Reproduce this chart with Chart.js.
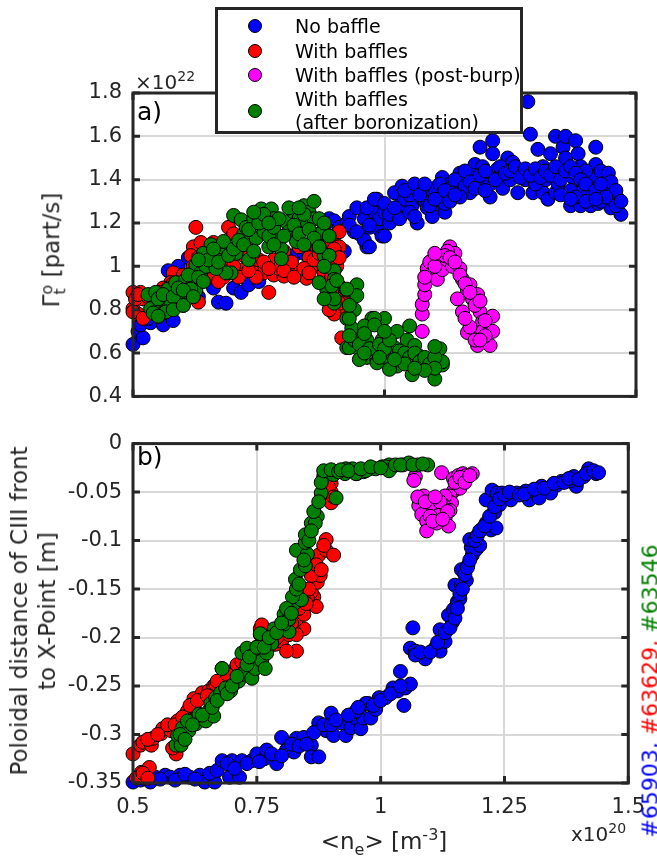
<!DOCTYPE html>
<html>
<head>
<meta charset="utf-8">
<script src="https://cdn.jsdelivr.net/npm/chart.js@4"></script>
<style>
body{margin:0;width:657px;height:867px;position:relative;background:#fff;overflow:hidden;font-family:"DejaVu Sans",sans-serif;color:#262626}
canvas{position:absolute;left:0}
.txt{position:absolute;white-space:nowrap}
.rot{position:absolute;white-space:nowrap;transform:translate(-50%,-50%) rotate(-90deg)}
.dot{position:absolute;width:12px;height:12px;border-radius:50%;border:1px solid #000;transform:translate(-50%,-50%)}
#legend{position:absolute;left:215px;top:7px;width:302px;height:121px;border:3px solid #262626;background:#fff;z-index:5;font-size:19px;color:#000}
</style>
</head>
<body>
<canvas id="fluxChart" width="657" height="420" style="top:0"></canvas>
<canvas id="frontChart" width="657" height="447" style="top:420px"></canvas>

<div id="legend"></div>

<div class="txt" style="left:135px;top:68px;font-size:20px">&times;10<sup style="font-size:14px">22</sup></div>
<div class="txt" style="left:137px;top:97px;font-size:25px;color:#000">a)</div>
<div class="txt" style="left:137px;top:442px;font-size:25px;color:#000">b)</div>
<div class="rot" style="left:52px;top:250px;font-size:23px">&Gamma;<span style="display:inline-block;vertical-align:middle;font-size:16px;line-height:13px;text-align:left">o<br>t</span> [part/s]</div>
<div class="rot" style="left:33px;top:611px;font-size:23px;line-height:28px;text-align:center">Poloidal distance of CIII front<br>to X-Point [m]</div>
<div class="txt" style="left:384px;top:842px;transform:translate(-50%,-50%);font-size:23px">&lt;n<sub style="font-size:16px">e</sub>&gt; [m<sup style="font-size:16px">-3</sup>]</div>
<div class="txt" style="left:571px;top:820px;font-size:20px">x10<sup style="font-size:14px">20</sup></div>
<div class="rot" style="left:650px;top:691px;font-size:22px"><span style="color:#0000ff">#65903,</span> <span style="color:#ff0000">#63629,</span> <span style="color:#008000">#63546</span></div>

<script>
// series names and colours
const seriesLabels = ["No baffle", "With baffles", "With baffles (post-burp)", "With baffles\n(after boronization)"]
const seriesColors = ["#0000ff", "#ff0000", "#ff00ff", "#007f00"]

// panel a) : <ne> [1e20 m^-3] vs Gamma [1e22 part/s]
const fluxNoBaffle = [
[0.50,0.64],[0.51,0.70],[0.52,0.67],[0.515,0.73],[0.535,0.74],[0.56,0.73],[0.58,0.75],[0.545,0.78],[0.555,0.80],
[0.53,0.76],[0.55,0.77],[0.60,0.82],[0.63,0.86],[0.66,0.90],
[0.57,0.98],[0.59,1.0],[0.61,1.04],[0.645,0.955],[0.62,0.92],[0.67,0.835],[0.685,0.83],[0.70,0.90],[0.715,0.88],
[0.73,0.915],[0.75,0.93],[0.77,1.01],[0.78,0.98],[0.79,1.0],[0.81,1.02],[0.82,1.05],[0.84,1.06],[0.85,1.10],
[0.86,1.12],[0.87,1.15],[0.88,1.17],[0.89,1.22],[0.90,1.21],[0.91,1.18],[0.925,1.20],[0.93,1.23],
[0.92,1.07],[0.945,1.27],[0.95,1.15],[0.96,1.22],[0.97,1.18],[0.965,1.09],[0.98,1.25],[0.96,1.12],[0.99,1.17],
[0.99,1.22],[0.995,1.14],[1.02,1.34],[1.03,1.28],
[0.985,1.31],[0.965,1.27],[0.94,1.16],[1.0,1.25],[0.93,1.19],[0.945,1.16],[0.97,1.09],[0.97,1.19],[0.98,1.31],
[1.0,1.14],[1.01,1.20],[1.035,1.37],[1.04,1.31],[1.055,1.28],[1.065,1.36],[1.065,1.20],[1.075,1.31],[1.09,1.34],
[1.105,1.29],[1.12,1.25],[1.115,1.41],[1.13,1.38],[1.145,1.36],[1.15,1.43],[1.165,1.40],[1.17,1.34],[1.18,1.47],
[1.19,1.55],[1.195,1.46],[1.21,1.32],[1.215,1.58],[1.215,1.52],[1.225,1.45],[1.235,1.36],[1.245,1.50],[1.255,1.48],
[1.26,1.43],[1.265,1.34],[1.275,1.44],[1.285,1.76],[1.29,1.61],[1.295,1.34],[1.305,1.43],[1.305,1.54],[1.315,1.34],
[1.315,1.46],[1.325,1.31],[1.33,1.52],[1.335,1.41],[1.34,1.60],[1.34,1.34],[1.355,1.43],[1.355,1.55],[1.36,1.60],
[1.36,1.50],[1.37,1.28],[1.375,1.41],[1.38,1.58],[1.385,1.52],[1.39,1.46],[1.39,1.28],[1.395,1.37],[1.40,1.32],
[1.41,1.28],[1.41,1.41],[1.42,1.55],[1.42,1.47],[1.425,1.29],[1.43,1.44],[1.44,1.37],[1.445,1.43],[1.45,1.27],
[1.455,1.325],[1.465,1.31],[1.47,1.24],[1.45,1.39],[1.05,1.33],[1.08,1.30],[1.10,1.36],[1.125,1.33],[1.14,1.40],
[1.16,1.37],[1.175,1.42],[1.20,1.40],[1.23,1.42],[1.25,1.40],[1.28,1.40],[1.30,1.38],[1.32,1.40],[1.345,1.38],
[1.37,1.35],[1.38,1.32],[1.40,1.44],[1.43,1.30],[1.46,1.35],[1.0,1.29],[1.01,1.24],[1.03,1.22],[1.05,1.25],
[1.06,1.23],[1.085,1.27],[1.095,1.23],[1.12,1.29],[1.15,1.32],[1.185,1.37],[1.21,1.38],
[1.02,1.27],[1.04,1.35],[1.06,1.38],[1.07,1.33],[1.08,1.38],[1.09,1.28],[1.10,1.31],[1.11,1.38],[1.12,1.35],
[1.13,1.30],[1.14,1.33],[1.16,1.44],[1.17,1.39],[1.18,1.36],[1.19,1.42],[1.20,1.44],[1.20,1.35],[1.22,1.40],
[1.23,1.46],[1.24,1.43],[1.25,1.44],[1.26,1.46],[1.27,1.41],[1.28,1.45],[1.29,1.42],[1.30,1.45],[1.31,1.41],
[1.32,1.44],[1.33,1.42],[1.34,1.46],[1.35,1.40],[1.36,1.44],[1.37,1.46],[1.38,1.43],[1.39,1.40],[1.40,1.38],
[1.42,1.35],[1.43,1.38],[1.44,1.32],[1.46,1.28],[1.47,1.30],[1.35,1.33],[1.37,1.31],[1.40,1.30],[1.42,1.31]
]
const fluxBaffles = [
[0.50,0.88],[0.50,0.805],[0.515,0.88],[0.52,0.85],[0.51,0.78],[0.50,0.79],[0.52,0.76],[0.505,0.85],[0.51,0.87],
[0.625,1.18],[0.62,1.09],
[0.635,1.11],[0.64,1.06],[0.615,1.05],[0.58,0.97],[0.575,0.925],[0.61,0.925],[0.63,0.835],[0.66,1.11],[0.69,1.18],
[0.70,1.15],[0.665,1.0],[0.68,0.95],[0.70,0.97],[0.72,0.985],[0.74,1.0],[0.75,1.03],[0.76,0.97],[0.77,0.88],
[0.78,0.96],[0.80,0.955],[0.805,1.0],[0.825,0.97],[0.845,0.955],[0.86,1.0],[0.87,1.01],[0.89,1.03],[0.90,1.14],
[0.905,1.09],[0.91,1.16],[0.865,1.09],[0.83,1.09],[0.80,1.07],[0.78,1.03],[0.91,1.09],[0.905,1.0],[0.91,0.91],
[0.92,0.865],[0.92,0.80],[0.915,0.67],[0.905,0.85],[0.91,0.79],[0.90,1.06],[0.845,0.945],[0.55,0.86],[0.56,0.90],
[0.59,0.88],[0.60,0.93],[0.65,0.98],[0.69,1.02],[0.72,1.05],[0.745,0.95],[0.79,0.99],[0.815,1.02],[0.85,1.04],
[0.88,0.97],[0.895,0.95],[0.54,0.83],[0.57,0.83],[0.60,0.86],
[0.53,0.86],[0.55,0.88],[0.57,0.90],[0.58,0.92],[0.60,0.96],[0.62,1.0],[0.63,1.04],[0.64,1.0],[0.66,0.95],
[0.67,0.93],[0.68,1.0],[0.70,1.0],[0.71,0.95],[0.73,0.98],[0.76,1.02],[0.77,0.99],[0.80,0.98],[0.82,0.95],
[0.84,0.99],[0.85,0.97],[0.86,1.03],[0.87,1.06],[0.88,1.12],[0.89,1.10],[0.90,1.08],[0.91,1.04],[0.90,0.92],
[0.895,0.88],[0.91,0.83],[0.90,0.78],[0.89,0.80]
]
const fluxPostBurp = [
[1.075,0.70],[1.075,0.78],[1.075,0.825],[1.08,0.87],[1.08,0.915],[1.085,0.99],[1.105,1.045],[1.105,0.94],
[1.115,0.985],[1.125,1.03],[1.13,1.09],[1.14,1.06],[1.135,1.0],[1.15,0.99],[1.155,0.94],[1.165,0.89],[1.17,0.915],
[1.175,0.85],[1.185,0.87],[1.19,0.79],[1.195,0.745],[1.195,0.70],[1.185,0.635],[1.215,0.77],[1.215,0.70],
[1.21,0.635],[1.165,0.695],[1.18,0.66],[1.155,0.79],[1.145,0.85],[1.125,1.07],
[1.08,0.95],[1.09,1.02],[1.10,1.0],[1.12,1.05],[1.13,1.04],[1.14,1.02],[1.15,0.96],[1.16,0.92],[1.17,0.88],
[1.18,0.82],[1.19,0.84],[1.20,0.75],[1.20,0.68],[1.19,0.66],[1.17,0.72],[1.16,0.76],[1.10,1.06]
]
const fluxBoronized = [
[0.53,0.87],[0.535,0.805],[0.545,0.88],[0.555,0.82],[0.57,0.895],[0.575,0.835],[0.585,0.925],[0.595,0.87],
[0.605,0.94],[0.62,0.925],[0.625,0.89],[0.615,0.895],[0.56,0.785],[0.54,0.785],[0.565,0.79],[0.625,1.005],
[0.635,0.97],[0.645,1.0],[0.655,1.10],[0.665,1.05],[0.675,1.09],[0.68,1.115],[0.695,0.97],[0.70,1.235],
[0.715,1.215],[0.705,1.06],[0.72,1.15],[0.725,1.18],[0.73,1.03],[0.74,1.22],[0.745,1.13],[0.755,1.265],
[0.76,1.16],[0.765,1.205],[0.77,1.09],[0.775,1.265],[0.78,1.22],[0.785,1.15],[0.795,1.08],[0.795,1.035],
[0.805,1.205],[0.81,1.16],[0.82,1.25],[0.825,1.115],[0.83,1.22],[0.84,1.28],[0.845,1.205],[0.85,1.25],
[0.86,1.30],[0.86,1.22],[0.87,1.09],[0.875,1.155],[0.88,1.05],[0.88,1.0],[0.885,0.895],[0.89,0.85],[0.90,0.83],
[0.685,0.97],[0.665,0.99],[0.64,1.06],
[0.55,0.85],[0.56,0.87],[0.58,0.86],[0.59,0.90],[0.60,0.89],[0.61,0.96],[0.63,0.95],[0.64,0.93],[0.65,1.03],
[0.66,1.08],[0.67,1.02],[0.69,1.05],[0.70,1.08],[0.71,1.12],[0.72,1.10],[0.73,1.17],[0.74,1.07],[0.75,1.20],
[0.76,1.24],[0.77,1.14],[0.78,1.18],[0.79,1.22],[0.80,1.14],[0.81,1.27],[0.82,1.19],[0.83,1.15],[0.84,1.24],
[0.85,1.17],[0.86,1.13],[0.87,1.22],[0.88,1.20],[0.89,1.14],[0.89,1.05],[0.90,0.98],[0.58,0.80],[0.60,0.82],
[0.62,0.86],[0.55,0.77],[0.78,1.10],[0.84,1.10],
[0.74,1.25],[0.77,1.20],[0.83,1.27],[0.63,1.03],
[0.90,0.94],[0.925,0.89],[0.945,0.915],[0.945,0.865],[0.94,0.80],
[0.925,0.76],[0.935,0.715],[0.96,0.715],[0.975,0.76],[1.0,0.76],[0.925,0.625],[0.945,0.625],[0.965,0.58],
[0.985,0.57],[1.005,0.60],[1.025,0.70],[1.025,0.54],[0.93,0.76],[0.98,0.76],[0.96,0.725],[1.05,0.725],
[0.93,0.625],[0.965,0.66],[0.98,0.60],[0.995,0.66],[1.005,0.58],[1.02,0.625],[1.03,0.585],[1.045,0.66],
[1.05,0.555],[1.06,0.635],[1.07,0.585],[1.085,0.54],[1.10,0.48],[1.11,0.62],[1.115,0.545],[1.115,0.56],
[1.095,0.56],[1.01,0.525],[1.055,0.50],[0.985,0.555],[0.95,0.57],[0.90,0.85],[0.895,0.91],[0.905,0.935],
[0.925,0.895],[0.93,0.82],[0.88,0.85],[0.87,0.925],[0.88,1.0],[0.87,1.09],
[0.94,0.66],[0.95,0.64],[0.97,0.62],[0.99,0.64],[1.0,0.62],[1.01,0.66],[1.03,0.61],[1.04,0.60],[1.05,0.58],
[1.06,0.60],[1.07,0.56],[1.08,0.58],[1.09,0.55],[1.10,0.58],[1.10,0.53],[1.08,0.52],[1.04,0.55],[0.96,0.60],
[0.99,0.58],[1.02,0.57],[1.06,0.53],[1.10,0.63],[0.93,0.68],[0.96,0.69],[0.98,0.73],[1.0,0.70]
]

// panel b) : <ne> [1e20 m^-3] vs poloidal distance [m]
const frontNoBaffle = [
[0.50,-0.349],[0.515,-0.347],[0.535,-0.349],[0.545,-0.344],[0.565,-0.342],[0.575,-0.344],[0.595,-0.342],
[0.615,-0.344],[0.635,-0.342],[0.645,-0.349],[0.665,-0.349],[0.655,-0.34],[0.67,-0.337],[0.68,-0.327],
[0.695,-0.344],[0.70,-0.327],[0.715,-0.344],[0.72,-0.327],[0.74,-0.327],[0.75,-0.32],[0.765,-0.325],
[0.77,-0.316],[0.79,-0.33],[0.80,-0.303],[0.81,-0.316],[0.825,-0.318],[0.83,-0.304],[0.845,-0.303],
[0.86,-0.311],[0.86,-0.323],[0.875,-0.323],[0.875,-0.288],[0.89,-0.296],[0.90,-0.278],[0.905,-0.301],
[0.92,-0.288],[0.93,-0.301],[0.94,-0.293],[0.95,-0.283],[0.96,-0.294],[0.965,-0.283],[0.975,-0.268],
[0.98,-0.283],[0.99,-0.274],[0.95,-0.276],[0.97,-0.268],[0.997,-0.262],[1.01,-0.262],[1.025,-0.252],
[1.035,-0.255],[1.047,-0.27],[1.05,-0.252],[1.06,-0.248],[1.04,-0.235],[1.065,-0.19],[1.06,-0.211],
[1.07,-0.214],[1.09,-0.222],[1.11,-0.211],[1.12,-0.214],[1.13,-0.204],[1.12,-0.192],[1.145,-0.184],
[1.137,-0.177],[1.147,-0.171],[1.155,-0.163],[1.16,-0.16],[1.15,-0.146],[1.163,-0.146],[1.173,-0.141],
[1.163,-0.13],[1.176,-0.126],[1.185,-0.115],[1.183,-0.107],[1.193,-0.109],[1.18,-0.099],[1.20,-0.105],
[1.203,-0.089],[1.213,-0.082],[1.223,-0.089],[1.233,-0.087],[1.23,-0.071],[1.24,-0.063],[1.213,-0.058],
[1.225,-0.048],[1.235,-0.051],[1.245,-0.051],[1.263,-0.058],[1.275,-0.051],[1.293,-0.049],[1.30,-0.058],
[1.313,-0.051],[1.325,-0.044],[1.335,-0.048],[1.345,-0.044],[1.355,-0.043],[1.365,-0.039],[1.375,-0.039],
[1.39,-0.034],[1.395,-0.044],[1.41,-0.034],[1.42,-0.026],[1.435,-0.031],[1.383,-0.038],[1.343,-0.051],
[1.32,-0.056],
[0.52,-0.345],[0.555,-0.346],[0.585,-0.347],[0.605,-0.341],[0.625,-0.346],[0.69,-0.33],[0.705,-0.335],
[0.73,-0.33],[0.755,-0.328],[0.78,-0.32],[0.80,-0.322],[0.82,-0.31],[0.835,-0.312],[0.85,-0.31],[0.865,-0.298],
[0.885,-0.29],[0.90,-0.29],[0.91,-0.285],[0.935,-0.28],[0.955,-0.272],[0.985,-0.27],[1.0,-0.265],[1.02,-0.258],
[1.04,-0.25],[1.07,-0.218],[1.08,-0.215],[1.10,-0.215],[1.115,-0.205],[1.13,-0.195],[1.14,-0.19],[1.15,-0.18],
[1.155,-0.17],[1.16,-0.155],[1.165,-0.15],[1.17,-0.135],[1.175,-0.128],[1.18,-0.12],[1.19,-0.10],[1.195,-0.095],
[1.20,-0.09],[1.21,-0.085],[1.22,-0.075],[1.23,-0.065],[1.24,-0.057],[1.25,-0.053],[1.26,-0.05],[1.28,-0.053],
[1.29,-0.052],[1.31,-0.047],[1.33,-0.046],[1.35,-0.041],[1.37,-0.04],[1.38,-0.036],[1.40,-0.037],[1.415,-0.031],
[1.43,-0.028],[1.44,-0.03]
]
const frontBaffles = [
[0.50,-0.32],[0.515,-0.311],[0.52,-0.308],[0.537,-0.311],[0.54,-0.304],[0.557,-0.299],[0.56,-0.294],
[0.577,-0.296],[0.59,-0.286],[0.603,-0.289],[0.61,-0.276],[0.623,-0.272],[0.623,-0.263],[0.64,-0.257],
[0.653,-0.255],[0.663,-0.25],[0.68,-0.243],[0.70,-0.235],[0.517,-0.339],[0.533,-0.334],[0.507,-0.345],
[0.587,-0.32],[0.58,-0.314],[0.757,-0.191],[0.787,-0.207],[0.80,-0.204],[0.815,-0.197],[0.83,-0.214],
[0.845,-0.191],[0.825,-0.194],[0.76,-0.187],[0.78,-0.197],[0.81,-0.214],[0.83,-0.197],[0.83,-0.181],
[0.845,-0.176],[0.865,-0.158],[0.87,-0.168],[0.86,-0.153],[0.872,-0.143],[0.865,-0.133],[0.878,-0.136],
[0.875,-0.115],[0.89,-0.099],[0.89,-0.11],[0.905,-0.115],[0.90,-0.061],[0.90,-0.041],[0.86,-0.136],
[0.852,-0.16],[0.795,-0.191],[0.68,-0.232],[0.705,-0.237],[0.725,-0.228],[0.745,-0.214],[0.765,-0.201],
[0.667,-0.248],
[0.53,-0.305],[0.55,-0.30],[0.57,-0.29],[0.585,-0.29],[0.60,-0.282],[0.615,-0.27],[0.63,-0.265],[0.65,-0.26],
[0.67,-0.245],[0.69,-0.238],[0.71,-0.228],[0.72,-0.225],[0.735,-0.22],[0.75,-0.21],[0.77,-0.20],[0.79,-0.20],
[0.81,-0.19],[0.82,-0.185],[0.835,-0.17],[0.85,-0.165],[0.855,-0.15],[0.87,-0.125],[0.88,-0.13],[0.885,-0.105],
[0.90,-0.05],[0.895,-0.045],[0.905,-0.055],[0.52,-0.34],[0.53,-0.345]
]
const frontPostBurp = [
[1.07,-0.034],[1.067,-0.038],[1.123,-0.03],[1.147,-0.036],[1.157,-0.033],[1.166,-0.031],[1.173,-0.033],
[1.185,-0.031],[1.155,-0.043],[1.147,-0.049],[1.16,-0.046],[1.14,-0.054],[1.143,-0.061],[1.13,-0.054],
[1.127,-0.064],[1.14,-0.069],[1.13,-0.077],[1.137,-0.085],[1.117,-0.066],[1.107,-0.073],[1.113,-0.082],
[1.10,-0.066],[1.087,-0.054],[1.077,-0.064],[1.083,-0.073],[1.093,-0.08],[1.093,-0.09],[1.117,-0.074],
[1.075,-0.055],[1.09,-0.06],[1.10,-0.075],[1.105,-0.08],[1.12,-0.06],[1.135,-0.07],[1.15,-0.04],[1.16,-0.035],
[1.17,-0.04],[1.18,-0.033],[1.125,-0.078],[1.11,-0.055]
]
const frontBoronized = [
[0.587,-0.311],[0.59,-0.301],[0.60,-0.293],[0.613,-0.296],[0.61,-0.286],[0.627,-0.289],[0.633,-0.279],
[0.647,-0.286],[0.653,-0.276],[0.657,-0.268],[0.663,-0.281],[0.667,-0.262],[0.68,-0.232],[0.677,-0.257],
[0.687,-0.252],[0.697,-0.255],[0.703,-0.248],[0.713,-0.245],[0.72,-0.238],[0.727,-0.235],[0.74,-0.242],
[0.72,-0.216],[0.73,-0.211],[0.743,-0.218],[0.747,-0.232],[0.76,-0.224],[0.767,-0.232],[0.77,-0.216],
[0.78,-0.206],[0.757,-0.197],[0.795,-0.191],[0.815,-0.194],[0.805,-0.186],[0.597,-0.311],[0.757,-0.196],
[0.785,-0.191],[0.805,-0.176],[0.815,-0.181],[0.825,-0.165],[0.84,-0.161],[0.822,-0.158],[0.828,-0.14],
[0.838,-0.13],[0.848,-0.126],[0.83,-0.11],[0.852,-0.114],[0.848,-0.102],[0.848,-0.094],[0.86,-0.082],
[0.872,-0.075],[0.868,-0.082],[0.88,-0.051],[0.91,-0.056],[0.885,-0.034],[0.89,-0.029],[0.905,-0.032],
[0.928,-0.031],[0.943,-0.026],[0.952,-0.031],[0.965,-0.029],[0.977,-0.026],[0.99,-0.026],[1.003,-0.024],
[1.017,-0.022],[1.023,-0.024],[0.93,-0.026],[0.95,-0.031],[0.97,-0.028],[1.01,-0.024],[1.017,-0.028],
[1.03,-0.022],[1.045,-0.022],[1.057,-0.02],[1.075,-0.022],[1.095,-0.022],
[0.595,-0.30],[0.605,-0.305],[0.62,-0.29],[0.64,-0.28],[0.66,-0.272],[0.67,-0.265],[0.69,-0.258],[0.70,-0.25],
[0.71,-0.24],[0.73,-0.228],[0.735,-0.22],[0.75,-0.21],[0.765,-0.21],[0.775,-0.20],[0.79,-0.195],[0.80,-0.185],
[0.81,-0.17],[0.82,-0.175],[0.83,-0.15],[0.835,-0.145],[0.845,-0.12],[0.855,-0.10],[0.86,-0.09],[0.865,-0.07],
[0.875,-0.06],[0.88,-0.04],[0.885,-0.028],[0.90,-0.027],[0.915,-0.029],[0.92,-0.027],[0.935,-0.028],
[0.96,-0.026],[0.98,-0.024],[1.0,-0.025],[1.04,-0.022],[1.065,-0.022],[1.085,-0.021]
]

const fluxTicks = [0.4, 0.6, 0.8, 1, 1.2, 1.4, 1.6, 1.8]
const frontTicks = [-0.35, -0.3, -0.25, -0.2, -0.15, -0.1, -0.05, 0]
const neTicks = [0.5, 0.75, 1, 1.25, 1.5]

// legend
const legend = document.getElementById("legend")
const legendRows = [16, 41, 65, 101]
seriesLabels.forEach((name, i) => {
  let d = document.createElement("div")
  d.className = "dot"
  d.style.left = "37px"; d.style.top = legendRows[i] + "px"
  d.style.background = seriesColors[i]
  legend.appendChild(d)
  let t = document.createElement("div")
  t.className = "txt"
  t.style.left = "77px"
  t.style.top = legendRows[i] + "px"
  t.style.transform = "translateY(-50%)"
  t.style.lineHeight = "23px"
  t.innerHTML = name.replace("\n", "<br>")
  legend.appendChild(t)
})

const fmt = v => String(Number(Number(v).toFixed(2)))

// thick box + inward ticks, like the original axes
const boxPlugin = {
  id: "box",
  afterDraw(chart) {
    const { ctx, chartArea: a, scales: { x, y } } = chart
    ctx.save()
    ctx.strokeStyle = "#262626"
    ctx.lineWidth = 3
    ctx.beginPath()
    y.ticks.forEach(t => {
      let p = y.getPixelForValue(t.value)
      ctx.moveTo(a.left, p); ctx.lineTo(a.left + 7, p)
      ctx.moveTo(a.right, p); ctx.lineTo(a.right - 7, p)
    })
    x.ticks.forEach(t => {
      let p = x.getPixelForValue(t.value)
      ctx.moveTo(p, a.bottom); ctx.lineTo(p, a.bottom - 7)
      ctx.moveTo(p, a.top); ctx.lineTo(p, a.top + 7)
    })
    ctx.stroke()
    ctx.strokeRect(a.left, a.top, a.right - a.left, a.bottom - a.top)
    ctx.restore()
  }
}

function makeDatasets(lists) {
  return lists.map((pts, i) => ({
    label: seriesLabels[i],
    data: pts.map(p => ({ x: p[0], y: p[1] })),
    backgroundColor: seriesColors[i],
    borderColor: "#000",
    borderWidth: 1,
    pointRadius: 7,
    clip: false,
    order: 4 - i
  }))
}

function makeChart(id, lists, yTicks, xStep, showX, pad, xHeight) {
  return new Chart(document.getElementById(id), {
    type: "scatter",
    data: { datasets: makeDatasets(lists) },
    plugins: [boxPlugin],
    options: {
      responsive: false,
      animation: false,
      layout: { padding: pad, autoPadding: false },
      plugins: { legend: { display: false }, tooltip: { enabled: false } },
      scales: {
        x: {
          min: neTicks[0], max: neTicks[neTicks.length - 1],
          afterBuildTicks: s => { s.ticks = neTicks.filter(v => Math.abs((v - 0.5) / xStep - Math.round((v - 0.5) / xStep)) < 1e-6).map(v => ({ value: v })) },
          afterFit: s => { s.height = xHeight },
          grid: { color: "#d8d8d8", lineWidth: 2, drawTicks: false },
          border: { display: false },
          ticks: { display: showX, padding: 12, color: "#262626", font: { family: "DejaVu Sans", size: 21 }, callback: fmt, maxRotation: 0, autoSkip: false }
        },
        y: {
          min: yTicks[0], max: yTicks[yTicks.length - 1],
          afterBuildTicks: s => { s.ticks = yTicks.map(v => ({ value: v })) },
          afterFit: s => { s.width = 133 },
          grid: { color: "#d8d8d8", lineWidth: 2, drawTicks: false },
          border: { display: false },
          ticks: { padding: 11, color: "#262626", font: { family: "DejaVu Sans", size: 21 }, callback: fmt, autoSkip: false }
        }
      }
    }
  })
}

makeChart("fluxChart", [fluxNoBaffle, fluxBaffles, fluxPostBurp, fluxBoronized], fluxTicks, 0.5, false,
  { left: 0, top: 93, right: 21, bottom: 12 }, 0)
makeChart("frontChart", [frontNoBaffle, frontBaffles, frontPostBurp, frontBoronized], frontTicks, 0.25, true,
  { left: 0, top: 20, right: 21, bottom: 0 }, 84)
</script>
</body>
</html>
